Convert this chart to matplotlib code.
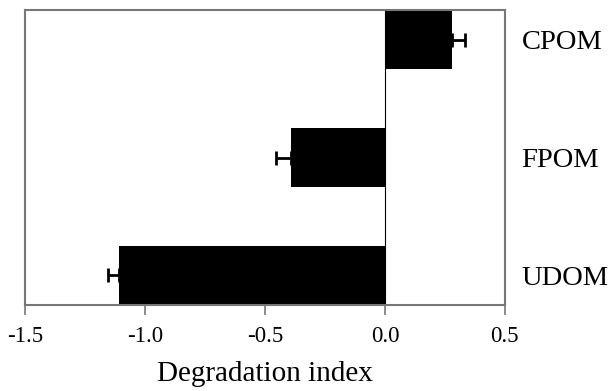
import matplotlib.pyplot as plt

categories = ['UDOM', 'FPOM', 'CPOM']
values = [-1.11, -0.39, 0.28]
errors = [0.045, 0.065, 0.055]

plt.rcParams['font.family'] = ['Liberation Serif', 'DejaVu Serif']

fig = plt.figure(figsize=(6.09, 3.91), dpi=100)
ax = fig.add_axes([0.041, 0.22, 0.788, 0.754])

pos = list(range(len(categories)))
# one-sided error bars pointing away from zero
lower = [e if v < 0 else 0 for v, e in zip(values, errors)]
upper = [e if v >= 0 else 0 for v, e in zip(values, errors)]
ax.barh(pos, values, height=0.5, color='black',
        xerr=[lower, upper], error_kw=dict(ecolor='black', elinewidth=2, capsize=5, capthick=2))

ax.axvline(0, color='black', linewidth=0.8)

ax.set_xlim(-1.5, 0.5)
ax.set_ylim(-0.25, 2.25)
ax.set_xticks([-1.5, -1.0, -0.5, 0.0, 0.5])
ax.set_xticklabels(['-1.5', '-1.0', '-0.5', '0.0', '0.5'], fontsize=16.5)
ax.set_yticks(pos)
ax.set_yticklabels(categories, fontsize=20.5)
ax.yaxis.tick_right()
ax.tick_params(axis='y', length=0, pad=12)
ax.tick_params(axis='x', direction='out', length=7, width=1.2, color='#777777', pad=8)

for s in ax.spines.values():
    s.set_color('#777777')
    s.set_linewidth(1.5)

ax.set_xlabel('Degradation index', fontsize=21, labelpad=10)

fig.savefig('out.png', dpi=100)
